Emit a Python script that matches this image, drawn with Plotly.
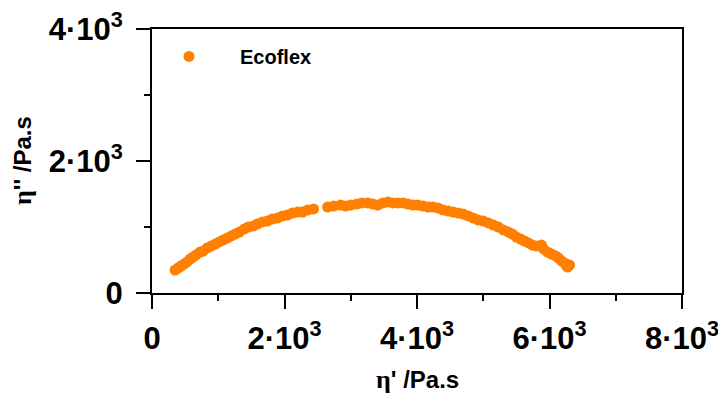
import plotly.graph_objects as go

eta_prime = [348, 394, 439, 485, 530, 576, 621, 667, 727, 773, 833, 894, 955, 1015, 1076,
             1136, 1197, 1257, 1318, 1394, 1454, 1530, 1591, 1667, 1742, 1818, 1894, 1970,
             2045, 2121, 2197, 2273, 2348, 2439, 2651, 2742, 2848, 2924, 3000, 3091, 3167,
             3257, 3333, 3409, 3485, 3561, 3636, 3712, 3788, 3864, 3939, 4015, 4091, 4167,
             4242, 4318, 4394, 4470, 4545, 4621, 4697, 4773, 4848, 4924, 5000, 5076, 5152,
             5227, 5303, 5379, 5439, 5500, 5561, 5621, 5682, 5742, 5803, 5879, 5909, 5970,
             6030, 6091, 6136, 6182, 6227, 6258, 6303, 6273]
eta_dprime = [348, 379, 409, 439, 470, 515, 545, 576, 621, 636, 682, 712, 742, 773, 803,
              833, 864, 894, 924, 970, 1000, 1015, 1045, 1076, 1091, 1121, 1136, 1167,
              1182, 1212, 1227, 1227, 1257, 1273, 1303, 1318, 1333, 1318, 1333, 1348, 1364,
              1364, 1348, 1333, 1364, 1379, 1364, 1364, 1364, 1348, 1333, 1333, 1318, 1303,
              1303, 1288, 1257, 1242, 1227, 1212, 1197, 1167, 1136, 1106, 1091, 1061, 1030,
              1000, 955, 924, 894, 848, 818, 788, 758, 727, 712, 727, 667, 621,
              591, 561, 530, 485, 455, 409, 424, 394]

series_name = "Ecoflex"
eta = "<span style='font-family:\"Liberation Serif\", serif; font-weight:bold; font-size:26px'>η</span>"
x_title = eta + "<b>' /Pa.s</b>"
y_title = eta + "<b>'' /Pa.s</b>"
x_tickvals = [0, 2000, 4000, 6000, 8000]
x_ticktext = ["0", "2·10<sup>3</sup>", "4·10<sup>3</sup>", "6·10<sup>3</sup>", "8·10<sup>3</sup>"]
y_tickvals = [0, 2000, 4000]
y_ticktext = ["0", "2·10<sup>3</sup>", "4·10<sup>3</sup>"]

FONT = "Arial, 'Liberation Sans', sans-serif"
ORANGE = "#FF7F00"

fig = go.Figure()
fig.add_trace(go.Scatter(
    x=eta_prime, y=eta_dprime, mode="markers", name=series_name,
    marker=dict(color=ORANGE, size=11, line=dict(width=0)),
))

axis_common = dict(
    showgrid=False, zeroline=False, showline=True, linecolor="black", linewidth=2,
    mirror=True, ticks="outside", ticklen=14, tickwidth=2, tickcolor="black",
    automargin=False, ticklabeloverflow="allow",
    tickfont=dict(family=FONT, size=31, color="black", weight="bold"),
    minor=dict(ticks="outside", ticklen=6, tickwidth=1.5, tickcolor="black", dtick=1000),
)

fig.update_xaxes(range=[0, 8000], tickvals=x_tickvals, ticktext=x_ticktext,
                 ticklabelstandoff=3, **axis_common)
fig.update_yaxes(range=[0, 4000], tickvals=y_tickvals, ticktext=y_ticktext,
                 ticklabelstandoff=7, **axis_common)

fig.add_annotation(text=x_title, xref="paper", yref="paper",
                   x=0.5, y=-86 / 264, xanchor="center", yanchor="middle", showarrow=False,
                   font=dict(family=FONT, size=24, color="black"))
fig.add_annotation(text=y_title, xref="paper", yref="paper",
                   x=-130 / 530, y=0.5, xanchor="center", yanchor="middle", showarrow=False,
                   textangle=-90, font=dict(family=FONT, size=24, color="black"))

fig.update_layout(
    width=718, height=394,
    margin=dict(l=152, r=36, t=29, b=101, autoexpand=False),
    plot_bgcolor="white", paper_bgcolor="white",
    showlegend=True,
    legend=dict(x=-14 / 530, y=0.97, xanchor="left", yanchor="top", bgcolor="rgba(0,0,0,0)",
                font=dict(family=FONT, size=20, color="black", weight="bold"),
                itemwidth=92),
)

fig.write_html("out.html", config={"displayModeBar": False},
               post_script="document.body.style.margin='0';")
